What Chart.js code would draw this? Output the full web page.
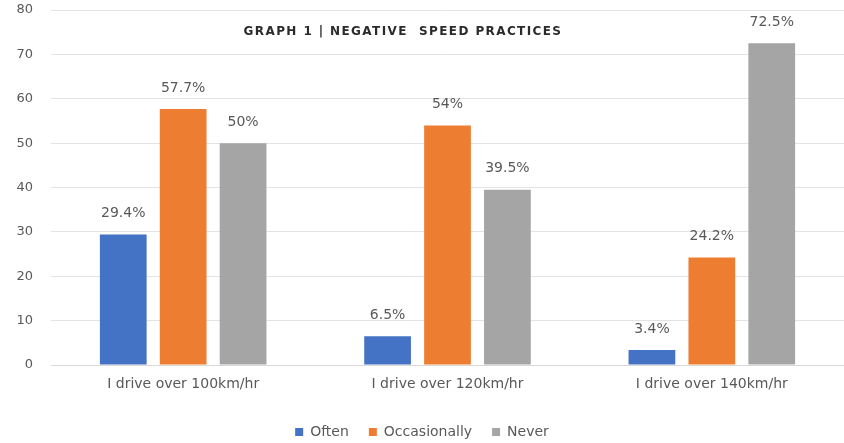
<!DOCTYPE html>
<html>
<head>
<meta charset="utf-8">
<script src="https://cdn.jsdelivr.net/npm/chart.js@4.4.1/dist/chart.umd.min.js"></script>
<style>
  body { margin: 0; background: #fff; }
  #wrap { width: 844px; height: 443px; }
</style>
</head>
<body>
<div id="wrap"><canvas id="speedChart" width="844" height="443"></canvas></div>
<script>
const categories = ['I drive over 100km/hr', 'I drive over 120km/hr', 'I drive over 140km/hr'];
const often = [29.4, 6.5, 3.4];
const occasionally = [57.7, 54, 24.2];
const never = [50, 39.5, 72.5];
const yTicks = [0, 10, 20, 30, 40, 50, 60, 70, 80];

const titleText = 'GRAPH 1 | NEGATIVE  SPEED PRACTICES';
const textFont = { family: '"DejaVu Sans"', size: 14 };

// title sits inside the plot area in the original
const innerTitle = {
  id: 'innerTitle',
  afterDraw(chart) {
    const ctx = chart.ctx;
    const area = chart.chartArea;
    ctx.save();
    ctx.font = 'bold 12px "DejaVu Sans"';
    ctx.letterSpacing = '1.4px';
    ctx.fillStyle = '#2b2b2b';
    ctx.textAlign = 'center';
    ctx.textBaseline = 'middle';
    ctx.fillText(titleText, 403, area.top + 22);
    ctx.restore();
  }
};

// value labels above the bars
const barLabels = {
  id: 'barLabels',
  afterDatasetsDraw(chart) {
    const ctx = chart.ctx;
    ctx.save();
    ctx.font = '14px "DejaVu Sans"';
    ctx.fillStyle = '#595959';
    ctx.textAlign = 'center';
    ctx.textBaseline = 'middle';
    chart.data.datasets.forEach((ds, i) => {
      chart.getDatasetMeta(i).data.forEach((bar, j) => {
        ctx.fillText(ds.data[j] + '%', bar.x, bar.y - 21);
      });
    });
    ctx.restore();
  }
};

// legend keeps wide item spacing but sits close to the bottom edge
const tightLegend = {
  id: 'tightLegend',
  beforeLayout(chart) {
    const legend = chart.legend;
    if (!legend || legend._tight) return;
    const fit = legend.fit;
    legend.fit = function () {
      fit.call(this);
      this.height -= 6;
    };
    legend._tight = true;
  }
};

const ctx = document.getElementById('speedChart').getContext('2d');

new Chart(ctx, {
  type: 'bar',
  data: {
    labels: categories,
    datasets: [
      { label: 'Often', data: often, backgroundColor: '#4472C4' },
      { label: 'Occasionally', data: occasionally, backgroundColor: '#ED7D31' },
      { label: 'Never', data: never, backgroundColor: '#A5A5A5' }
    ]
  },
  options: {
    responsive: false,
    animation: false,
    categoryPercentage: 0.68,
    barPercentage: 0.78,
    layout: { padding: 0 },
    plugins: {
      legend: {
        position: 'bottom',
        labels: {
          boxWidth: 8,
          boxHeight: 8,
          padding: 20,
          color: '#595959',
          font: textFont
        }
      },
      tooltip: { enabled: false }
    },
    scales: {
      x: {
        grid: { display: false },
        border: { color: '#d9d9d9' },
        ticks: { color: '#595959', padding: 3, font: textFont },
        afterFit(axis) { axis.height = 40; }
      },
      y: {
        min: 0,
        max: 80,
        afterBuildTicks(axis) { axis.ticks = yTicks.map(v => ({ value: v })); },
        afterFit(axis) { axis.width = 51; axis.paddingTop = 10; },
        grid: { color: '#e3e3e3', drawTicks: false },
        border: { display: false },
        ticks: { color: '#595959', padding: 18, font: { family: '"DejaVu Sans"', size: 13 } }
      }
    }
  },
  plugins: [innerTitle, barLabels, tightLegend]
});
</script>
</body>
</html>
